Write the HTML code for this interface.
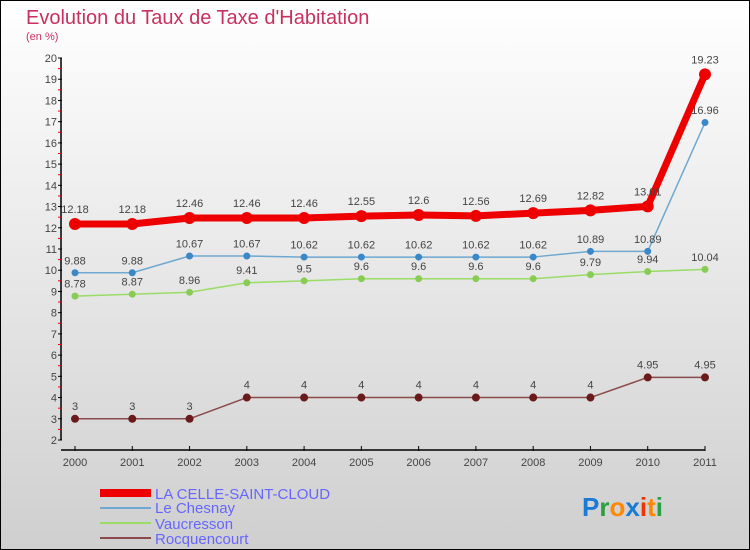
<!DOCTYPE html>
<html><head><meta charset="utf-8"><style>
body{margin:0}
#c{width:750px;height:550px;position:relative;box-sizing:border-box;border:1px solid #000;background:linear-gradient(#ffffff,#cfcfcf);font-family:"Liberation Sans",sans-serif;overflow:hidden}
</style></head><body>
<div id="c">
<svg id="s" width="750" height="550" style="position:absolute;left:-1px;top:-1px">
<text x="26" y="24" font-size="20" fill="#c8305f">Evolution du Taux de Taxe d'Habitation</text>
<text x="26" y="40" font-size="11" fill="#c8305f">(en %)</text>
<g id="axes"></g><g id="series"></g>
<g>
<rect x="100" y="489" width="51" height="8" fill="#ee0000"/>
<line x1="100" y1="508" x2="151" y2="508" stroke="#6fa8d0" stroke-width="2"/>
<line x1="100" y1="523" x2="151" y2="523" stroke="#99dd66" stroke-width="2"/>
<line x1="100" y1="538" x2="151" y2="538" stroke="#8a4a4a" stroke-width="2"/>
<g font-size="15" fill="#6666ff">
<text x="155" y="499">LA CELLE-SAINT-CLOUD</text>
<text x="155" y="513">Le Chesnay</text>
<text x="155" y="529">Vaucresson</text>
<text x="155" y="544">Rocquencourt</text>
</g></g>
<g font-size="26" font-weight="bold">
<text x="582" y="516"><tspan fill="#1a7bd6">P</tspan><tspan fill="#2aa040">r</tspan><tspan fill="#ff8800">o</tspan><tspan fill="#1a7bd6">x</tspan><tspan fill="#ee3300">i</tspan><tspan fill="#ff8800">t</tspan><tspan fill="#2aa040">i</tspan></text>
</g>
</svg></div>
<script>
const years=["2000","2001","2002","2003","2004","2005","2006","2007","2008","2009","2010","2011"];
const laCelle=[12.18,12.18,12.46,12.46,12.46,12.55,12.6,12.56,12.69,12.82,13.01,19.23];
const leChesnay=[9.88,9.88,10.67,10.67,10.62,10.62,10.62,10.62,10.62,10.89,10.89,16.96];
const vaucresson=[8.78,8.87,8.96,9.41,9.5,9.6,9.6,9.6,9.6,9.79,9.94,10.04];
const rocquencourt=[3,3,3,4,4,4,4,4,4,4,4.95,4.95];
const yTicks=[2,3,4,5,6,7,8,9,10,11,12,13,14,15,16,17,18,19,20];
const NS="http://www.w3.org/2000/svg";
const X=i=>75+i*(630/11);
const Y=v=>440-(v-2)*(382/18);
function mk(p,t,a){const e=document.createElementNS(NS,t);for(const k in a)e.setAttribute(k,a[k]);p.appendChild(e);return e;}
const ax=document.getElementById('axes');
const ya=mk(ax,'line',{x1:61,y1:Y(20),x2:61,y2:Y(2),stroke:'#000','stroke-width':1.5});


const xa=mk(ax,'line',{x1:61,y1:450,x2:X(11),y2:450,stroke:'#000','stroke-width':1.5});


yTicks.forEach(v=>{
 mk(ax,'line',{x1:58,y1:Y(v),x2:62,y2:Y(v),stroke:'#000'});
 if(v<20)mk(ax,'line',{x1:58,y1:Y(v+0.5),x2:61,y2:Y(v+0.5),stroke:'#e00'});
 const t=mk(ax,'text',{x:57,y:Y(v)+4,'font-size':11,fill:'#444','text-anchor':'end'});
 t.textContent=v;
 
 
});
years.forEach((y,i)=>{
 mk(ax,'line',{x1:X(i),y1:446,x2:X(i),y2:451,stroke:'#000'});
 const t=mk(ax,'text',{x:X(i),y:466,'font-size':11,fill:'#444','text-anchor':'middle'});
 t.textContent=y;
 
 
});
const sg=document.getElementById('series');
function series(name,data,color,w,r,dot){
 const g=mk(sg,'g',{});
 
 
 const pl=mk(g,'polyline',{points:data.map((v,i)=>X(i)+','+Y(v)).join(' '),fill:'none',stroke:color,'stroke-width':w,'stroke-linejoin':'round'});
 
 
 data.forEach((v,i)=>{
  const c=mk(g,'circle',{cx:X(i),cy:Y(v),r:r,fill:dot});
  
  
  const t=mk(g,'text',{x:X(i),y:Y(v)-r-5,'font-size':11,fill:'#444','text-anchor':'middle'});
  t.textContent=String(v);
  
  
 });
}
series('rocquencourt',rocquencourt,'#8a4a4a',1.5,4,'#6a1a1a');
series('vaucresson',vaucresson,'#99dd66',1.5,3.5,'#88cc55');
series('le-chesnay',leChesnay,'#6fa8d0',1.5,3.5,'#3a88c8');
series('la-celle',laCelle,'#ee0000',7,6,'#ee0000');
</script>
</body></html>
